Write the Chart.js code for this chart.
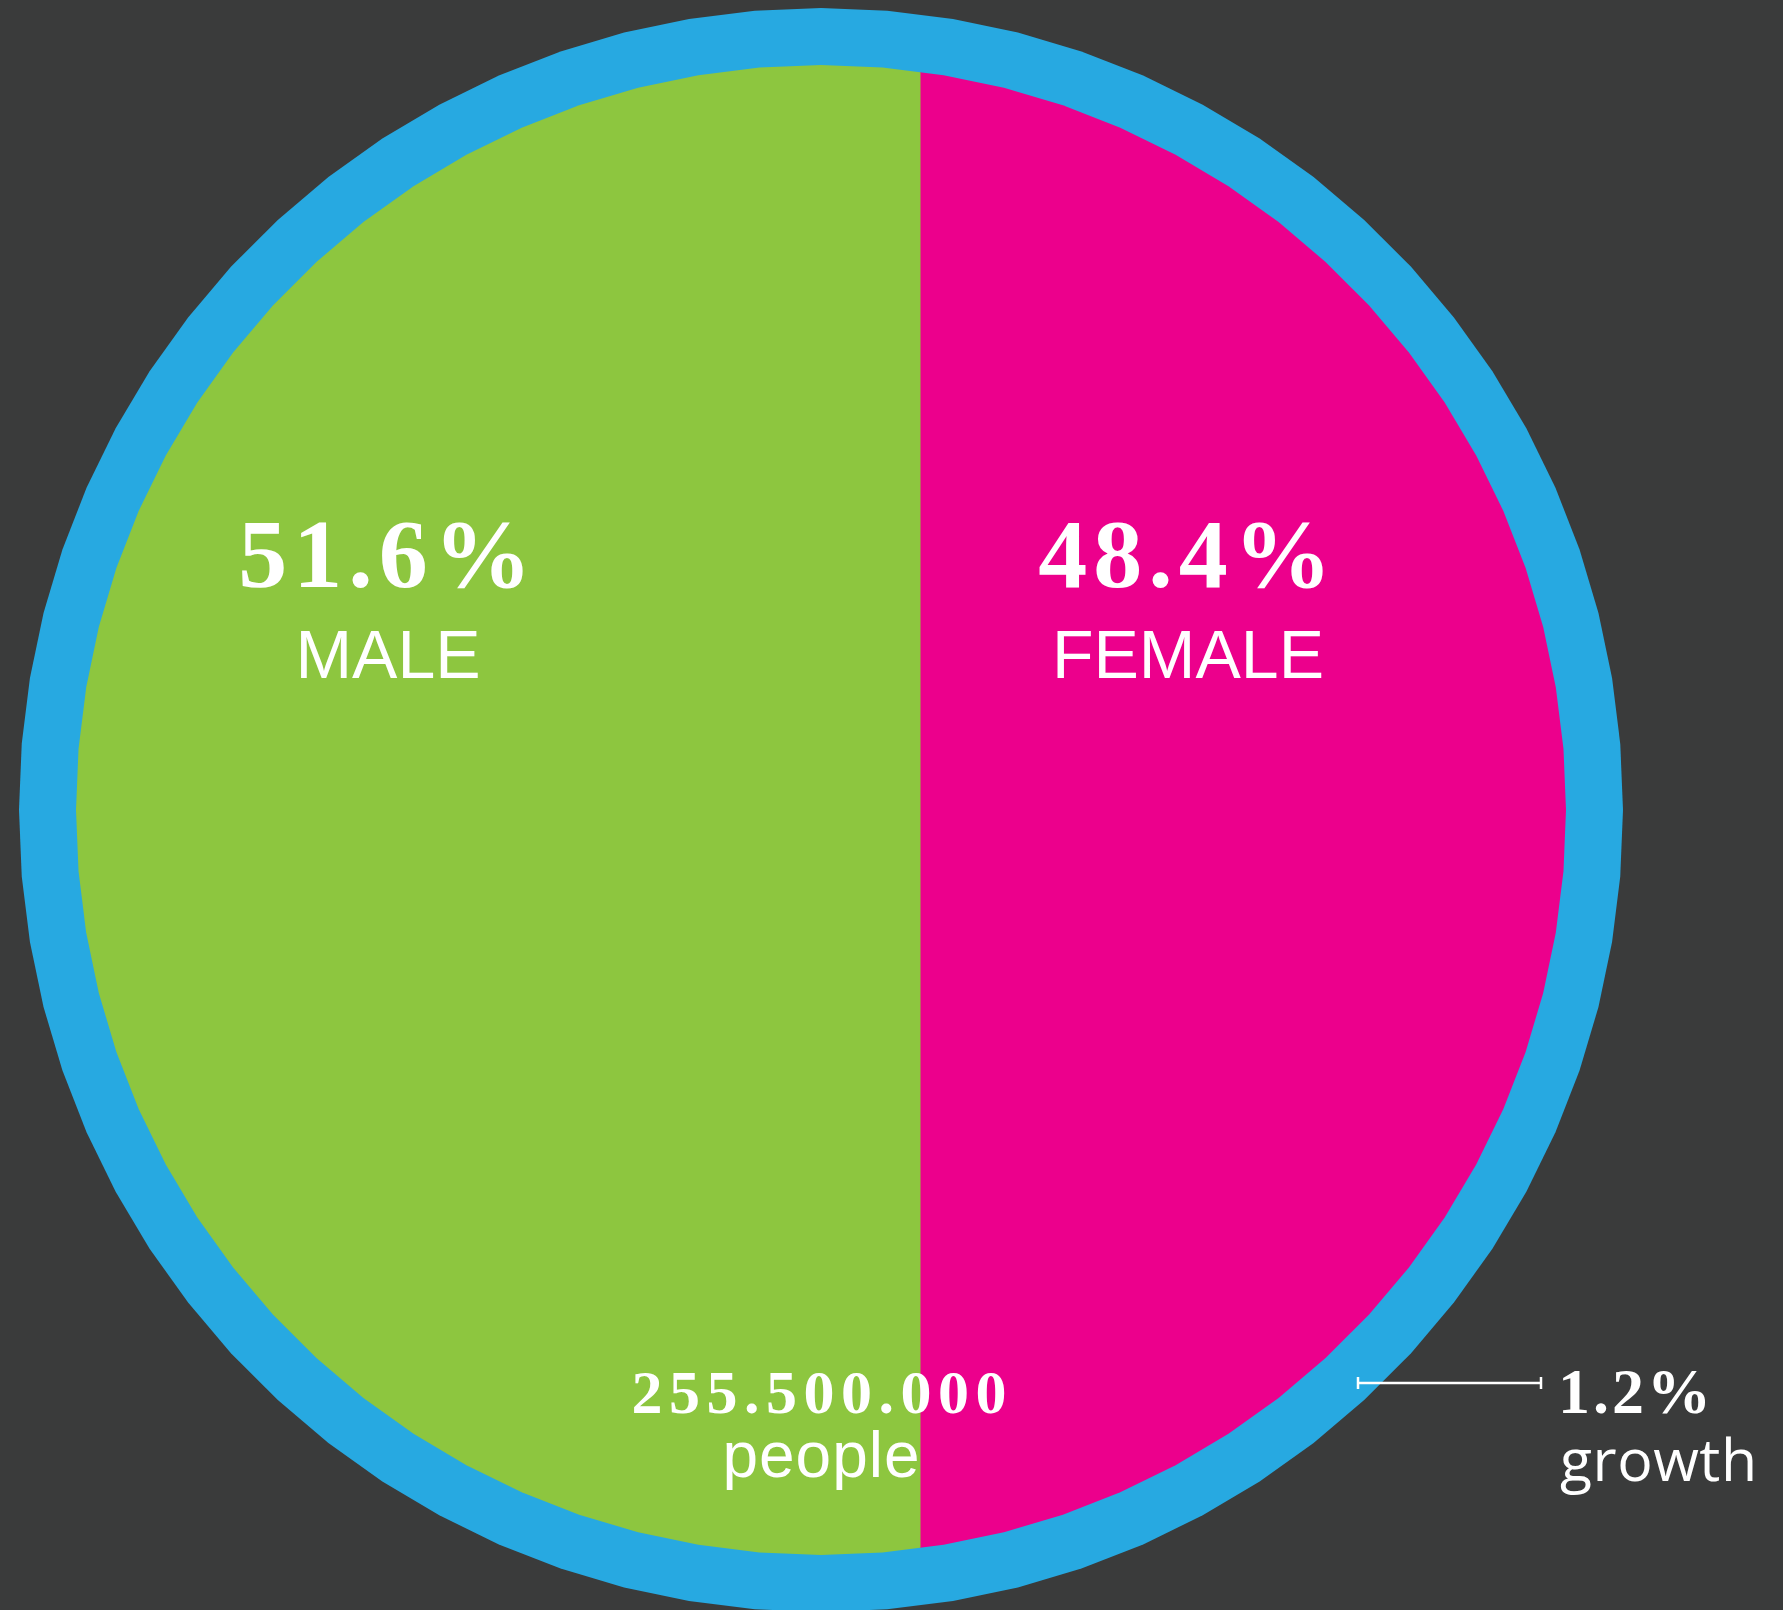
<!DOCTYPE html>
<html>
<head>
<meta charset="utf-8">
<title>Population by sex</title>
<script src="https://cdn.jsdelivr.net/npm/chart.js@4/dist/chart.umd.min.js"></script>
<style>
  html, body { margin: 0; padding: 0; background: #3a3b3b; overflow: hidden; }
  #wrap { width: 1783px; height: 1610px; }
</style>
</head>
<body>
<div id="wrap"><canvas id="chart" width="1783" height="1610"></canvas></div>
<script>
// Data
const categories = ['Population'];
const seriesLabels = ['MALE', 'FEMALE'];
const maleShare = [51.6];
const femaleShare = [48.4];
const totalPeople = [255500000];
const peopleLabel = ['people'];
const growthRate = [1.2];
const growthLabel = ['growth'];

// Colours
const BG = '#3a3b3b';
const RING = '#27a9e1';
const GREEN = '#8dc63f';
const MAGENTA = '#ec008c';

// Disc geometry (faceted circle with a ring round it)
const DISC = { cx: 821, cy: 810, rOuter: 802, rInner: 745, sides: 76 };

function polygonPath(ctx, cx, cy, r, n) {
  ctx.beginPath();
  for (let i = 0; i < n; i++) {
    const a = -Math.PI / 2 + (i * 2 * Math.PI) / n;
    const x = cx + r * Math.cos(a);
    const y = cy + r * Math.sin(a);
    if (i === 0) ctx.moveTo(x, y); else ctx.lineTo(x, y);
  }
  ctx.closePath();
}

function fmtDots(n) {
  return String(n).replace(/\B(?=(\d{3})+(?!\d))/g, '.');
}

function drawText(ctx, text, x, y, font, align, spacing) {
  ctx.font = font;
  ctx.textAlign = align;
  ctx.textBaseline = 'alphabetic';
  ctx.letterSpacing = (spacing || 0) + 'px';
  // letterSpacing also pads after the last glyph; shift to keep centring true
  const shift = align === 'center' ? (spacing || 0) / 2 : 0;
  ctx.fillText(text, x + shift, y);
  ctx.letterSpacing = '0px';
}

const discPlugin = {
  id: 'disc',
  beforeDraw(chart) {
    const ctx = chart.ctx;
    ctx.save();
    ctx.fillStyle = BG;
    ctx.fillRect(0, 0, chart.width, chart.height);
    ctx.restore();
  },
  beforeDatasetsDraw(chart) {
    const ctx = chart.ctx;
    ctx.save();
    ctx.fillStyle = RING;
    polygonPath(ctx, DISC.cx, DISC.cy, DISC.rOuter, DISC.sides);
    ctx.fill();
    ctx.restore();
    ctx.save();
    polygonPath(ctx, DISC.cx, DISC.cy, DISC.rInner, DISC.sides);
    ctx.clip();
  },
  afterDatasetsDraw(chart) {
    chart.ctx.restore();
  },
  afterDraw(chart) {
    const ctx = chart.ctx;
    const male = chart.data.datasets[0];
    const female = chart.data.datasets[1];
    ctx.save();
    ctx.fillStyle = '#ffffff';

    const serifBold = (s) => 'bold ' + s + 'px "Liberation Serif", "DejaVu Serif", serif';
    const sans = (s) => s + 'px "Liberation Sans", Arial, sans-serif';

    drawText(ctx, male.data[0].toFixed(1) + '%', 385, 587, serifBold(98), 'center', 6);
    drawText(ctx, male.label, 388, 678, sans(68), 'center', 0);

    drawText(ctx, female.data[0].toFixed(1) + '%', 1185, 587, serifBold(98), 'center', 6);
    drawText(ctx, female.label, 1188, 678, sans(68), 'center', 0);

    drawText(ctx, fmtDots(totalPeople[0]), 819, 1413, serifBold(62), 'center', 6.5);
    drawText(ctx, peopleLabel[0], 821, 1477, sans(64), 'center', 1);

    // growth marker
    ctx.strokeStyle = '#ffffff';
    ctx.lineWidth = 2.5;
    ctx.beginPath();
    ctx.moveTo(1357, 1383); ctx.lineTo(1542, 1383);
    ctx.moveTo(1358, 1377); ctx.lineTo(1358, 1389);
    ctx.moveTo(1541, 1377); ctx.lineTo(1541, 1389);
    ctx.stroke();

    drawText(ctx, growthRate[0].toFixed(1) + '%', 1558, 1413, serifBold(64), 'left', 3);
    drawText(ctx, growthLabel[0], 1560, 1481, '59px "Open Sans", "Liberation Sans", sans-serif', 'left', 0.5);
    ctx.restore();
  }
};

new Chart(document.getElementById('chart'), {
  type: 'bar',
  data: {
    labels: categories,
    datasets: [
      { label: seriesLabels[0], data: maleShare, backgroundColor: GREEN, borderWidth: 0 },
      { label: seriesLabels[1], data: femaleShare, backgroundColor: MAGENTA, borderWidth: 0 }
    ]
  },
  options: {
    indexAxis: 'y',
    responsive: false,
    animation: false,
    layout: { padding: { left: 76, right: 71, top: 65, bottom: 55 } },
    datasets: { bar: { categoryPercentage: 1, barPercentage: 1 } },
    scales: {
      x: { stacked: true, min: 0, max: 100, display: false },
      y: { stacked: true, display: false }
    },
    plugins: { legend: { display: false }, tooltip: { enabled: false } }
  },
  plugins: [discPlugin]
});
</script>
</body>
</html>
